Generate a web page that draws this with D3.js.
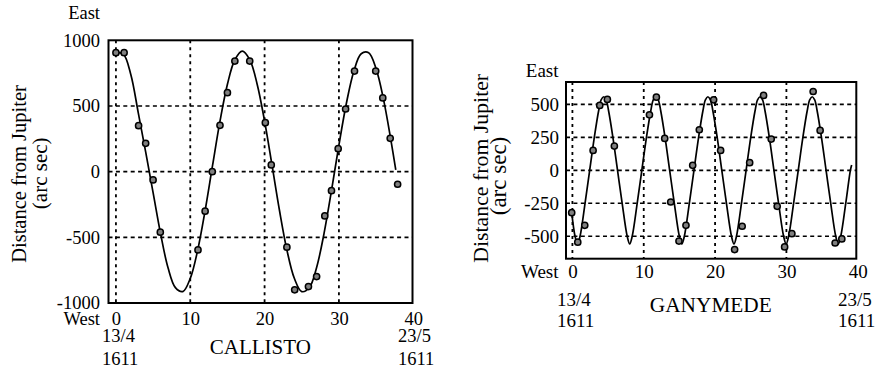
<!DOCTYPE html>
<html>
<head>
<meta charset="utf-8">
<script src="https://cdn.jsdelivr.net/npm/d3@7"></script>
<style>
  html, body { margin: 0; padding: 0; background: #fff; }
  svg { display: block; }
  svg text { font-family: "Liberation Serif", "Times New Roman", serif !important; fill: #000; }
</style>
</head>
<body>
<svg id="chart" width="876" height="370" font-family="Liberation Serif"></svg>
<script>
// ---------- shared axis data ----------
const xTickValues = [0, 10, 20, 30, 40];
const xGridValues = [0, 10, 20, 30];
const startDate = ["13/4", "1611"];
const endDate = ["23/5", "1611"];

// ---------- Callisto ----------
const callistoName = "CALLISTO";
const callistoYTicks = [-1000, -500, 0, 500, 1000];
const callistoYGrid = [-500, 0, 500];
const callistoObsX = [0, 1.1, 3.05, 4.0, 5.0, 5.97, 11.04, 12.0, 12.96, 14.0, 15.0, 16.0, 18.0,
  20.1, 20.9, 23.0, 24.05, 25.9, 27.0, 28.1, 29.0, 29.9, 30.9, 32.1, 34.95, 35.9, 36.9, 37.9];
const callistoObsY = [906, 906, 350, 216, -63, -461, -596, -301, 0, 353, 601, 842, 842,
  373, 51, -575, -900, -875, -799, -337, -145, 175, 477, 766, 766, 561, 254, -96];
const callistoFitX = [0, 1, 2, 3, 4, 5, 6, 7, 8, 9, 10, 11, 12, 13, 14, 15, 16, 17, 18, 19,
  20, 21, 22, 23, 24, 25, 26, 27, 28, 29, 30, 31, 32, 33, 34, 35, 36, 37, 37.65];
const callistoFitY = [908, 895, 740, 450, 150, -160, -470, -730, -883, -913, -813, -597, -296, 47,
  384, 665, 852, 918, 853, 666, 385, 49, -294, -596, -812, -913, -884, -729, -470, -144,
  202, 519, 763, 898, 905, 783, 550, 238, 14];

// ---------- Ganymede ----------
const ganymedeName = "GANYMEDE";
const ganymedeYTicks = [-500, -250, 0, 250, 500];
const ganymedeObsX = [-0.1, 0.75, 1.73, 2.9, 3.83, 4.9, 5.88, 10.8, 11.77, 12.94, 13.78, 14.94, 15.92,
  16.86, 17.79, 19.8, 20.78, 22.74, 23.8, 24.85, 26.8, 27.87, 28.71, 29.75, 30.77, 33.75, 34.73, 36.83, 37.77];
const ganymedeObsY = [-321, -545, -417, 151, 492, 538, 184, 421, 555, 242, -240, -536, -417,
  38, 308, 535, 151, -601, -424, 58, 568, 237, -273, -581, -480, 598, 303, -551, -520];
const ganymedeFitX = [-0.1, 0.37, 0.72, 1.07, 1.77, 2.42, 3.07, 3.67, 4.025, 4.375, 4.725, 5.075, 5.675, 6.325, 6.975, 7.68,
  8.03, 8.38, 9.08, 9.73, 10.38, 10.98, 11.335, 11.685, 12.035, 12.385, 12.985, 13.635, 14.285, 14.99,
  15.34, 15.69, 16.39, 17.04, 17.69, 18.29, 18.645, 18.995, 19.345, 19.695, 20.295, 20.945, 21.595, 22.3,
  22.65, 23.0, 23.7, 24.35, 25.0, 25.6, 25.955, 26.305, 26.655, 27.005, 27.605, 28.255, 28.905, 29.61,
  29.96, 30.31, 31.01, 31.66, 32.31, 32.91, 33.265, 33.615, 33.965, 34.315, 34.915, 35.565, 36.215, 36.92,
  37.27, 37.62, 38.32, 38.97, 39.15];
const ganymedeFitY = [-320, -500, -558, -500, -250, 0, 250, 450, 535, 558, 535, 450, 250, 0, -250, -500,
  -558, -500, -250, 0, 250, 450, 535, 558, 535, 450, 250, 0, -250, -500,
  -558, -500, -250, 0, 250, 450, 535, 558, 535, 450, 250, 0, -250, -500,
  -558, -500, -250, 0, 250, 450, 535, 558, 535, 450, 250, 0, -250, -500,
  -558, -500, -250, 0, 250, 450, 535, 558, 535, 450, 250, 0, -250, -500,
  -558, -500, -250, 0, 40];

const FONT = '"Liberation Serif", "Times New Roman", serif';
const svg = d3.select("#chart");

function drawPanel(cfg) {
  const g = svg.append("g");
  const x = d3.scaleLinear().domain(cfg.xDomain).range(cfg.xRange);
  const y = d3.scaleLinear().domain(cfg.yDomain).range(cfg.yRange);
  const [x0, x1] = cfg.xRange;
  const [y0, y1] = cfg.yRange; // y0 bottom, y1 top

  // grid lines
  g.selectAll("line.hgrid").data(cfg.yGrid).join("line")
    .attr("x1", x0).attr("x2", x1)
    .attr("y1", d => y(d)).attr("y2", d => y(d))
    .attr("stroke", "#000").attr("stroke-width", 1.6)
    .attr("stroke-dasharray", "4,3.4");
  g.selectAll("line.vgrid").data(xGridValues).join("line")
    .attr("x1", d => x(d)).attr("x2", d => x(d))
    .attr("y1", y1).attr("y2", y0)
    .attr("stroke", "#000").attr("stroke-width", 1.8)
    .attr("stroke-dasharray", "3,4");

  // fitted curve
  const fit = cfg.fitX.map((v, i) => [v, cfg.fitY[i]]);
  g.append("path").datum(fit)
    .attr("fill", "none").attr("stroke", "#000").attr("stroke-width", 1.7)
    .attr("d", d3.line().x(d => x(d[0])).y(d => y(d[1])).curve(d3.curveCatmullRom.alpha(0.5)));

  // observations
  const obs = cfg.obsX.map((v, i) => [v, cfg.obsY[i]]);
  g.selectAll("circle").data(obs).join("circle")
    .attr("cx", d => x(d[0])).attr("cy", d => y(d[1]))
    .attr("r", 3.1).attr("fill", "#808080")
    .attr("stroke", "#000").attr("stroke-width", 1.5);

  // frame
  g.append("rect")
    .attr("x", x0).attr("y", y1).attr("width", x1 - x0).attr("height", y0 - y1)
    .attr("fill", "none").attr("stroke", "#000").attr("stroke-width", 2);

  // axes (labels only)
  const yAxis = d3.axisLeft(y).tickValues(cfg.yTicks).tickSize(0).tickPadding(cfg.yPad)
    .tickFormat(d => String(d));
  const ya = g.append("g").attr("transform", `translate(${x0},0)`).call(yAxis);
  const xAxis = d3.axisBottom(x).tickValues(xTickValues).tickSize(0).tickPadding(cfg.xPad)
    .tickFormat(d => String(d));
  const xa = g.append("g").attr("transform", `translate(0,${y0})`).call(xAxis);
  [ya, xa].forEach(a => {
    a.attr("font-family", FONT).attr("font-size", cfg.tickSize);
    a.select(".domain").remove();
    a.selectAll("text").attr("font-family", FONT)
      .attr("font-size", cfg.tickSize).attr("fill", "#000");
  });

  const txt = (px, py, s, size, anchor) => g.append("text")
    .attr("x", px).attr("y", py).attr("text-anchor", anchor || "start")
    .attr("font-family", FONT).attr("font-size", size).text(s);

  // East / West
  txt(cfg.ewX, cfg.eastY, "East", cfg.tickSize, "end");
  txt(cfg.ewX, cfg.westY, "West", cfg.tickSize, "end");

  // dates
  [[startDate, cfg.startX], [endDate, cfg.endX]].forEach(([lines, px]) => {
    lines.forEach((t, i) => txt(px, cfg.dateY[i], t, cfg.tickSize));
  });

  // moon name
  txt(cfg.nameX, cfg.nameY, cfg.name, cfg.nameSize, "middle");

  // y title
  g.append("text").attr("transform", `translate(${cfg.t1[0]},${cfg.t1[1]}) rotate(-90)`)
    .attr("text-anchor", "middle").attr("font-family", FONT).attr("font-size", cfg.titleSize)
    .text("Distance from Jupiter");
  g.append("text").attr("transform", `translate(${cfg.t2[0]},${cfg.t2[1]}) rotate(-90)`)
    .attr("text-anchor", "middle").attr("font-family", FONT).attr("font-size", cfg.titleSize2)
    .text("(arc sec)");
}

drawPanel({
  name: callistoName,
  xDomain: [-1, 39.9], xRange: [108.5, 412.5],
  yDomain: [-1000, 1000], yRange: [303, 40.3],
  yTicks: callistoYTicks, yGrid: callistoYGrid,
  fitX: callistoFitX, fitY: callistoFitY, obsX: callistoObsX, obsY: callistoObsY,
  yPad: 8.5, xPad: 8.4, tickSize: 18.5,
  ewX: 100, eastY: 18.5, westY: 324.5,
  startX: 102, endX: 398, dateY: [341.7, 365],
  nameX: 260.3, nameY: 354, nameSize: 21,
  t1: [26, 174], t2: [46.5, 173.3], titleSize: 20.5, titleSize2: 21
});

drawPanel({
  name: ganymedeName,
  xDomain: [-0.9, 39.8], xRange: [566, 856.3],
  yDomain: [-670, 670], yRange: [258.7, 82],
  yTicks: ganymedeYTicks, yGrid: ganymedeYTicks,
  fitX: ganymedeFitX, fitY: ganymedeFitY, obsX: ganymedeObsX, obsY: ganymedeObsY,
  yPad: 7, xPad: 5.8, tickSize: 19,
  ewX: 558.5, eastY: 77, westY: 277.5,
  startX: 557, endX: 838, dateY: [306, 326.7],
  nameX: 710.8, nameY: 311.7, nameSize: 21.3,
  t1: [488, 168.3], t2: [506, 176], titleSize: 21.8, titleSize2: 23
});
</script>
</body>
</html>
